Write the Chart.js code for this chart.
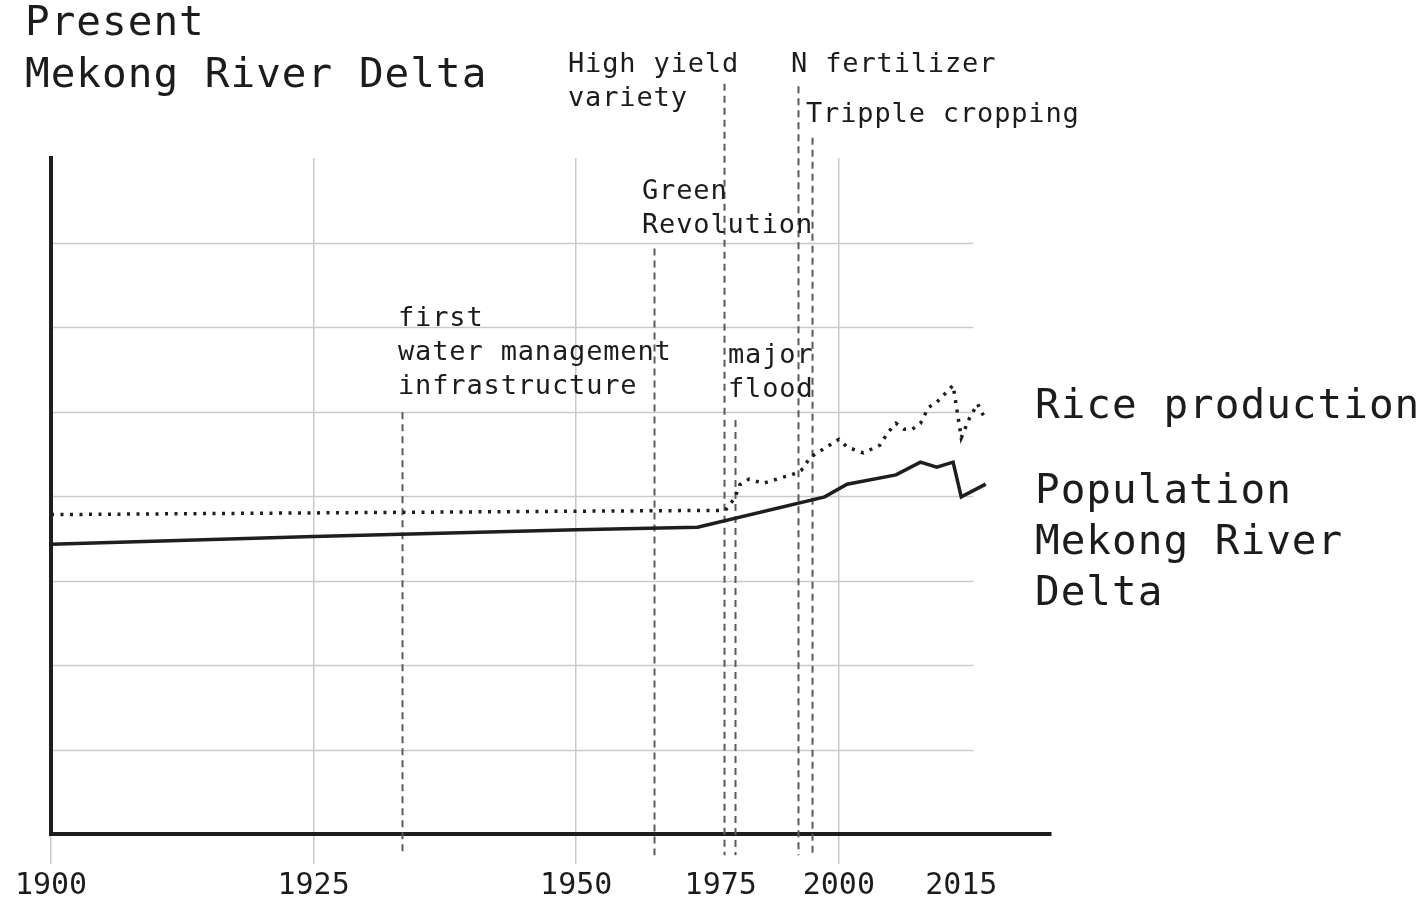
<!DOCTYPE html>
<html>
<head>
<meta charset="utf-8">
<script src="https://cdn.jsdelivr.net/npm/chart.js@4.4.1/dist/chart.umd.min.js"></script>
<style>
  html, body { margin: 0; padding: 0; background: #ffffff; }
  #wrap { position: relative; width: 1418px; height: 902px; }
</style>
</head>
<body>
<div id="wrap"><canvas id="c" width="1418" height="902"></canvas></div>
<script>
// ---------------- data ----------------
const tickYears = [1900, 1925, 1950, 1975, 2000, 2015];
const gridYears = [1900, 1925, 1950, 2000];

const popYears  = [1900, 1925, 1950, 1971, 1997, 2001, 2007, 2010, 2012, 2014, 2015, 2018];
const popValues = [3.43, 3.52, 3.60, 3.63, 3.99, 4.14, 4.25, 4.40, 4.34, 4.40, 3.99, 4.14];

const riceYears  = [1900, 1950, 1976, 1978, 1979, 1981, 1984, 1988, 1990, 1992, 1994, 1996, 2000, 2001,
                    2003, 2005, 2006, 2007, 2008, 2009, 2010, 2011, 2012, 2014, 2015, 2016, 2017, 2018];
const riceValues = [3.78, 3.82, 3.83, 3.98, 4.13, 4.20, 4.15, 4.22, 4.25, 4.30, 4.46, 4.53, 4.67, 4.58,
                    4.51, 4.60, 4.75, 4.86, 4.79, 4.79, 4.86, 5.05, 5.11, 5.31, 4.69, 4.92, 5.09, 4.90];

const eventNames = ['first water management infrastructure', 'Green Revolution', 'High yield variety',
                    'major flood', 'N fertilizer', 'Tripple cropping'];
const eventYears = [1933.4, 1963.5, 1975.7, 1978.1, 1991.4, 1994.3];
const eventTops  = [4.99, 6.93, 8.88, 4.90, 8.85, 8.24];

const titleLines = ['Present', 'Mekong River Delta'];
const riceLabel = ['Rice production'];
const popLabel = ['Population', 'Mekong River', 'Delta'];

// ---------------- layout / style ----------------
const FONT = '"DejaVu Sans Mono", "Liberation Mono", monospace';
const INK = '#1c1c1c';
const GRID = '#c9c9c9';
// x-axis stretch: [year, unit] anchors (piecewise linear axis as in the original figure)
const xAnchors = [[1900, 0], [1925, 1], [1950, 2], [1975, 2.55], [2000, 3], [2015, 3.466]];
const hGridEndYear = 2016.5;
const eventBottom = -0.25;

const textBlocks = [
  { lines: titleLines, x: 25,  y: 35,  size: 41, lh: 52, ls: 1.0 },
  { lines: riceLabel,  x: 1035, y: 418, size: 41, lh: 52, ls: 1.0 },
  { lines: popLabel,   x: 1035, y: 503, size: 41, lh: 51, ls: 1.0 },
  { lines: ['High yield', 'variety'], x: 568, y: 72, size: 27, lh: 34, ls: 0.85 },
  { lines: ['N fertilizer'], x: 791, y: 72, size: 27, lh: 34, ls: 0.85 },
  { lines: ['Tripple cropping'], x: 806, y: 122, size: 27, lh: 34, ls: 0.85 },
  { lines: ['Green', 'Revolution'], x: 642, y: 199, size: 27, lh: 34, ls: 0.85 },
  { lines: ['first', 'water management', 'infrastructure'], x: 398, y: 326, size: 27, lh: 34, ls: 0.85 },
  { lines: ['major', 'flood'], x: 728, y: 363, size: 27, lh: 34, ls: 0.85 }
];

// ---------------- piecewise linear scale ----------------
const BaseLinear = Chart.LinearScale || Chart.registry.getScale('linear');
class PiecewiseScale extends BaseLinear {
  static id = 'piecewise';
  static defaults = {};
  toUnit(v) {
    const a = this.options.anchors;
    let i = 1;
    while (i < a.length - 1 && v > a[i][0]) i++;
    const [y0, u0] = a[i - 1], [y1, u1] = a[i];
    return u0 + (v - y0) * (u1 - u0) / (y1 - y0);
  }
  fromUnit(u) {
    const a = this.options.anchors;
    let i = 1;
    while (i < a.length - 1 && u > a[i][1]) i++;
    const [y0, u0] = a[i - 1], [y1, u1] = a[i];
    return y0 + (u - u0) * (y1 - y0) / (u1 - u0);
  }
  getPixelForValue(v) {
    const u0 = this.toUnit(this.min), u1 = this.toUnit(this.max);
    return this.getPixelForDecimal((this.toUnit(v) - u0) / (u1 - u0));
  }
  getValueForPixel(p) {
    const u0 = this.toUnit(this.min), u1 = this.toUnit(this.max);
    return this.fromUnit(u0 + this.getDecimalForPixel(p) * (u1 - u0));
  }
}
Chart.register(PiecewiseScale);

// ---------------- plugins ----------------
const decorPlugin = {
  id: 'decor',
  beforeDatasetsDraw(chart) {
    const { ctx, chartArea, scales: { x, y } } = chart;
    ctx.save();
    // horizontal grid lines (end short of the x axis end, as in the original)
    ctx.strokeStyle = GRID;
    ctx.lineWidth = 1.5;
    const xEnd = x.getPixelForValue(hGridEndYear);
    y.ticks.forEach(t => {
      if (t.value <= y.min || t.value >= y.max) return;
      const py = Math.round(y.getPixelForValue(t.value)) + 0.5;
      ctx.beginPath();
      ctx.moveTo(chartArea.left + 2, py);
      ctx.lineTo(xEnd, py);
      ctx.stroke();
    });
    // event dashed lines
    ctx.strokeStyle = '#5a5a5a';
    ctx.lineWidth = 2;
    ctx.setLineDash([7, 5]);
    eventYears.forEach((yr, i) => {
      const px = Math.round(x.getPixelForValue(yr)) + 0.5;
      ctx.beginPath();
      ctx.moveTo(px, y.getPixelForValue(eventTops[i]));
      ctx.lineTo(px, y.getPixelForValue(eventBottom));
      ctx.stroke();
    });
    ctx.restore();
  },
  afterDraw(chart) {
    const ctx = chart.ctx;
    ctx.save();
    ctx.fillStyle = INK;
    ctx.textAlign = 'left';
    ctx.textBaseline = 'alphabetic';
    textBlocks.forEach(b => {
      ctx.font = b.size + 'px ' + FONT;
      if ('letterSpacing' in ctx) ctx.letterSpacing = b.ls + 'px';
      b.lines.forEach((ln, i) => ctx.fillText(ln, b.x, b.y + i * b.lh));
    });
    ctx.restore();
  }
};

// ---------------- chart ----------------
new Chart(document.getElementById('c'), {
  type: 'line',
  data: {
    datasets: [
      {
        label: 'Population Mekong River Delta',
        data: popYears.map((yr, i) => ({ x: yr, y: popValues[i] })),
        borderColor: '#1e1e1e',
        borderWidth: 3.5,
        pointRadius: 0,
        tension: 0,
        borderJoinStyle: 'miter',
        fill: false
      },
      {
        label: 'Rice production',
        data: riceYears.map((yr, i) => ({ x: yr, y: riceValues[i] })),
        borderColor: '#1e1e1e',
        borderWidth: 3.5,
        borderDash: [3, 6.5],
        pointRadius: 0,
        tension: 0,
        fill: false
      }
    ]
  },
  options: {
    responsive: false,
    animation: false,
    devicePixelRatio: 1,
    layout: { padding: { left: 51, right: 367, top: 158, bottom: 0 } },
    plugins: { legend: { display: false }, tooltip: { enabled: false } },
    scales: {
      x: {
        type: 'piecewise',
        anchors: xAnchors,
        min: 1900,
        max: 2026,
        afterBuildTicks: s => { s.ticks = tickYears.map(v => ({ value: v })); },
        afterFit: s => { s.height = 68; },
        grid: {
          color: c => (c.tick && gridYears.includes(c.tick.value)) ? GRID : 'rgba(0,0,0,0)',
          lineWidth: 1.5,
          tickLength: 30
        },
        border: { display: true, color: '#1e1e1e', width: 4 },
        ticks: {
          autoSkip: false,
          maxRotation: 0,
          padding: 4,
          color: INK,
          font: { family: FONT, size: 30 },
          callback: v => String(v)
        }
      },
      y: {
        type: 'linear',
        min: 0,
        max: 8,
        afterFit: s => { s.width = 0; },
        ticks: { stepSize: 1, display: false },
        grid: { display: false, drawTicks: false },
        border: { display: true, color: '#1e1e1e', width: 4 }
      }
    }
  },
  plugins: [decorPlugin]
});
</script>
</body>
</html>
